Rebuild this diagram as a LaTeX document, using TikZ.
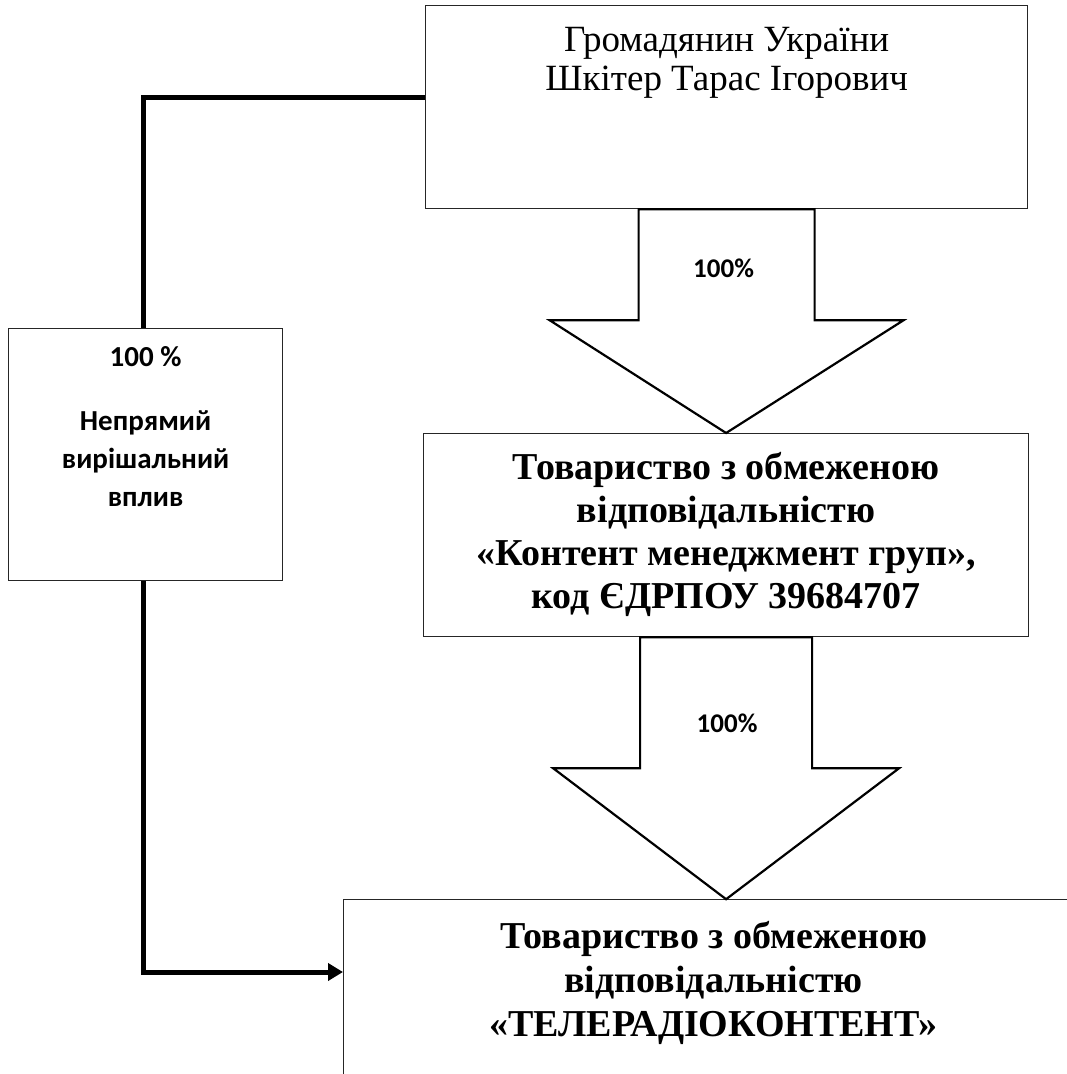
\documentclass[tikz,border=0pt]{standalone}
\usepackage{fontspec}
\setmainfont{Liberation Serif}
\newfontfamily\calibri{Carlito}
\usetikzlibrary{arrows.meta, positioning, calc}

\begin{document}
\begin{tikzpicture}[x=1pt,y=-1pt,>=Stealth]
        \tikzstyle{box}=[rectangle,draw=black!85,line width=1.2pt,inner sep=0pt]
        \tikzstyle{txt}=[align=center,inner sep=0pt]
        \tikzstyle{fat}=[draw=black,line width=2.2pt,fill=white,line join=miter]
        \tikzstyle{link}=[line width=5pt,line join=miter]
        \useasboundingbox (0,0) rectangle (1066,1074);
        % boxes
        \node[box,minimum width=602pt,minimum height=203pt,anchor=north west] (owner) at (425,5) {};
        \node[box,minimum width=605pt,minimum height=203pt,anchor=north west] (company) at (423,433) {};
        \node[box,minimum width=274pt,minimum height=252pt,anchor=north west] (influence) at (8,328) {};
        \node[box,minimum width=740pt,minimum height=220pt,anchor=north west] (tv) at (343,899) {};
        % texts
        \node[txt,font=\fontsize{37}{39}\selectfont,below=22pt of owner.north] (ownername) {Громадянин України\\Шкітер Тарас Ігорович};
        \node[txt,font=\fontsize{38}{43}\selectfont\bfseries,below=19pt of company.north] (companyname) {Товариство з обмеженою\\відповідальністю\\«Контент менеджмент груп»,\\код ЄДРПОУ 39684707};
        \node[txt,font=\fontsize{38}{44}\selectfont\bfseries,below=22pt of tv.north] (tvname) {Товариство з обмеженою\\відповідальністю\\«ТЕЛЕРАДІОКОНТЕНТ»};
        \node[txt,font=\calibri\fontsize{29}{38}\selectfont\bfseries,below=18pt of influence.north] (influencename) {100 \%\\[26pt]Непрямий\\вирішальний\\вплив};
        % block arrows
        \draw[fat] ($(owner.south)+(-88,0)$) -- ++(0,111) -- ++(-89,0) -- (company.north)
          -- ($(owner.south)+(177,111)$) -- ++(-89,0) -- ++(0,-111) -- cycle;
        \draw[fat] ($(company.south)+(-86,0)$) -- ++(0,131) -- ++(-87,0) -- ($(company.south)+(0,262)$)
          -- ($(company.south)+(173,131)$) -- ++(-87,0) -- ++(0,-131) -- cycle;
        \node[txt,font=\calibri\fontsize{27}{30}\selectfont\bfseries] (share1) at ($(owner.south)+(-3,59)$) {100\%};
        \node[txt,font=\calibri\fontsize{27}{30}\selectfont\bfseries] (share2) at ($(company.south)+(1,86)$) {100\%};
        % control line
        \coordinate (ownerleft) at ($(owner.north west)+(0,92)$);
        \coordinate (tvleft) at ($(tv.north west)+(0,73)$);
        \draw[link] (ownerleft) -| ($(influence.north)+(-2,0)$);
        \draw[link,-{Triangle[length=15pt,width=17pt]}] ($(influence.south)+(-2,0)$) |- (tvleft);
\end{tikzpicture}
\end{document}
